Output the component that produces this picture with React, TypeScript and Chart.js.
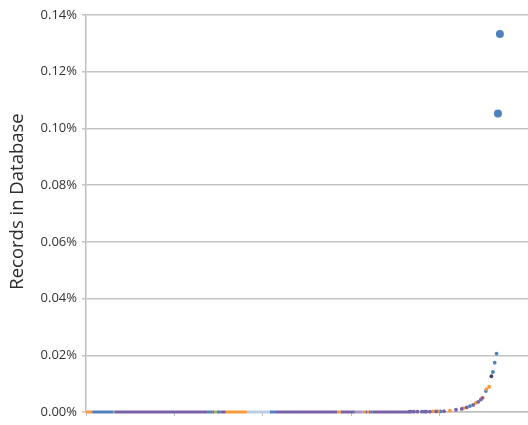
import { useEffect, useRef } from 'react'
import Chart from 'chart.js/auto'

// palette keyed by series name
const palette: Record<string, string> = {
  blue: '#4f81bd',
  orange: '#f79a3a',
  purple: '#7a62a6',
  lavender: '#a396c8',
  lightblue: '#b9cde5',
  red: '#c0504d',
  green: '#9bbb59',
  dark: '#4b3c7c',
}

// runs of (near) zero records along the bottom, by rank
const flatStart = [0, 7, 31, 32, 137, 143, 145, 148, 152, 158, 182, 208, 214, 284, 288, 304, 313, 316, 318, 320, 322, 324]
const flatEnd = [7, 31, 32, 137, 143, 145, 148, 152, 158, 182, 208, 214, 284, 288, 304, 313, 316, 318, 320, 322, 324, 365]
const flatSeries = ['orange', 'blue', 'green', 'purple', 'blue', 'red', 'green', 'blue', 'purple', 'orange', 'lightblue', 'blue', 'purple', 'orange', 'purple', 'lavender', 'orange', 'purple', 'orange', 'purple', 'blue', 'purple']

// individual records on the tail (value in %)
const purpleRank = [366, 371, 375, 380, 385, 389, 396, 405, 418.5, 425, 430.6, 438, 443.7, 446.7]
const purpleVal = [0.0001, 0.0001, 0.0001, 0.0001, 0.0001, 0.0001, 0.0002, 0.0003, 0.0008, 0.0011, 0.0016, 0.0025, 0.0036, 0.0044]
const blueRank = [368, 383, 401, 434.3, 452.4, 460.3, 462.3, 464.4]
const blueVal = [0.0001, 0.0001, 0.0002, 0.0021, 0.0074, 0.0141, 0.0174, 0.0206]
const orangeRank = [392.5, 398, 411.7, 427, 441, 453, 456.1]
const orangeVal = [0.0002, 0.0002, 0.0005, 0.0014, 0.0032, 0.0081, 0.0089]
const redRank = [448.6]
const redVal = [0.005]
const darkRank = [458.6]
const darkVal = [0.0126]
const outlierRank = [466, 468.2]
const outlierVal = [0.1053, 0.1333]

const yTicks = [0, 0.02, 0.04, 0.06, 0.08, 0.1, 0.12, 0.14]
const yTitle = 'Records in Database'

const pts = (xs: number[], ys: number[]) => xs.map((x, i) => ({ x, y: ys[i] }))

const App = () => {
  const chartRef = useRef<HTMLCanvasElement>(null)
  const chartInstance = useRef<Chart | null>(null)

  useEffect(() => {
    document.body.style.margin = '0'
    if (!chartRef.current) return
    const ctx = chartRef.current.getContext('2d')
    if (!ctx) return
    if (chartInstance.current) chartInstance.current.destroy()

    const flatSets = flatStart.map((s, i) => ({
      type: 'line' as const,
      data: [{ x: s, y: 0 }, { x: flatEnd[i], y: 0 }],
      borderColor: palette[flatSeries[i]],
      borderWidth: 3,
      borderCapStyle: 'butt' as const,
      pointRadius: 0,
      showLine: true,
      clip: false,
    }))

    const dotSet = (xs: number[], ys: number[], key: string, r = 1.9) => ({
      type: 'scatter' as const,
      data: pts(xs, ys),
      backgroundColor: palette[key],
      borderWidth: 0,
      pointRadius: r,
      clip: false,
    })

    // rotated y title, sits a little above the axis centre like the source
    const titlePlugin = {
      id: 'yTitle',
      afterDraw(chart: Chart) {
        const { top, bottom } = chart.chartArea
        const c = chart.ctx
        c.save()
        c.translate(18, (top + bottom) / 2 - 12)
        c.rotate(-Math.PI / 2)
        c.font = '18.5px "Open Sans"'
        c.fillStyle = '#2e2e2e'
        c.textAlign = 'center'
        c.textBaseline = 'middle'
        c.fillText(yTitle, 0, 0)
        c.restore()
      },
    }

    chartInstance.current = new Chart(ctx, {
      type: 'scatter',
      data: {
        datasets: [
          ...flatSets,
          dotSet(purpleRank, purpleVal, 'purple'),
          dotSet(orangeRank, orangeVal, 'orange'),
          dotSet(redRank, redVal, 'red'),
          dotSet(darkRank, darkVal, 'dark'),
          dotSet(blueRank, blueVal, 'blue'),
          dotSet(outlierRank, outlierVal, 'blue', 4),
        ] as any,
      },
      options: {
        animation: false,
        responsive: true,
        maintainAspectRatio: false,
        layout: { autoPadding: false, padding: { top: 15, right: 0, left: 0, bottom: 0 } },
        plugins: { legend: { display: false }, tooltip: { enabled: false } },
        scales: {
          x: {
            type: 'linear',
            min: 0,
            max: 500,
            afterFit: (s: any) => {
              s.height = 13
              s.paddingLeft = 0
              s.paddingRight = 0
            },
            ticks: { stepSize: 100, display: false },
            grid: { drawOnChartArea: false, tickLength: 4, color: '#bdbdbd', lineWidth: 1 },
            border: { color: '#bfbfbf', width: 1.5 },
          },
          y: {
            min: 0,
            max: 0.14,
            afterFit: (s: any) => {
              s.width = 86
              s.paddingTop = 0
              s.paddingBottom = 0
            },
            afterBuildTicks: (s: any) => { s.ticks = yTicks.map(v => ({ value: v })) },
            ticks: {
              padding: 5,
              color: '#333333',
              font: { family: '"Open Sans", sans-serif', size: 13 },
              callback: (v: any) => Number(v).toFixed(2) + '%',
            },
            grid: { color: '#c4c4c4', lineWidth: 1.5, tickLength: 4 },
            border: { color: '#bfbfbf', width: 1.5 },
          },
        },
      },
      plugins: [titlePlugin],
    })

    return () => {
      if (chartInstance.current) {
        chartInstance.current.destroy()
        chartInstance.current = null
      }
    }
  }, [])

  return (
    <div style={{ position: 'relative', width: '528px', height: '425px', background: '#fff' }}>
      <canvas ref={chartRef}></canvas>
    </div>
  )
}

export default App
